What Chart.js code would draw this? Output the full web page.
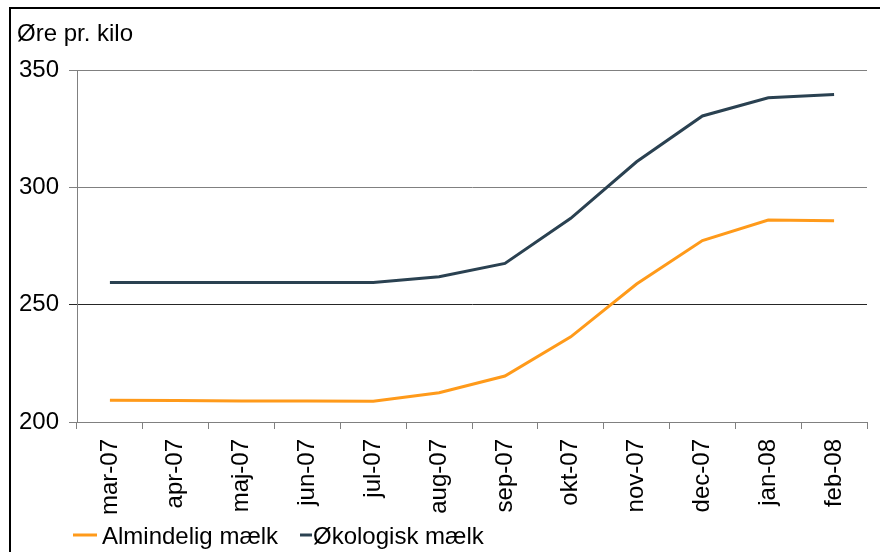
<!DOCTYPE html>
<html>
<head>
<meta charset="utf-8">
<script src="https://cdn.jsdelivr.net/npm/chart.js@4"></script>
<style>
  html, body { margin: 0; padding: 0; background: #fff; overflow: hidden; }
  #wrap { position: relative; width: 880px; height: 552px; }
  #frame { position: absolute; left: 9px; top: 7px; width: 900px; height: 600px;
           border-top: 2px solid #000; border-left: 2px solid #000; pointer-events: none; }
  canvas { position: absolute; left: 0; top: 0; }
</style>
</head>
<body>
<div id="wrap">
  <canvas id="c" width="880" height="552"></canvas>
  <div id="frame"></div>
</div>
<script>
const months = ['mar-07','apr-07','maj-07','jun-07','jul-07','aug-07','sep-07','okt-07','nov-07','dec-07','jan-08','feb-08'];
const almindelig = [209.3, 209.2, 209.0, 209.0, 208.8, 212.5, 219.6, 236.3, 258.8, 277.3, 286.1, 285.8];
const okologisk = [259.4, 259.4, 259.4, 259.4, 259.4, 261.9, 267.6, 286.8, 310.9, 330.4, 338.2, 339.6];
const seriesNames = ['Almindelig mælk', 'Økologisk mælk'];
const yTicks = [200, 250, 300, 350];
const unitLabel = 'Øre pr. kilo';

const FONT = '"Liberation Sans", Arial, sans-serif';
Chart.defaults.font.family = FONT;
Chart.defaults.font.size = 24;
Chart.defaults.color = '#000';

const legendPlugin = {
  id: 'lineLegend',
  afterDraw(chart, args, opts) {
    const ctx = chart.ctx;
    ctx.save();
    ctx.font = '24px ' + FONT;
    ctx.textBaseline = 'alphabetic';
    ctx.textAlign = 'left';
    chart.data.datasets.forEach((ds, i) => {
      const it = opts.items[i];
      ctx.strokeStyle = ds.borderColor;
      ctx.lineWidth = 3;
      ctx.beginPath();
      ctx.moveTo(it.x0, opts.lineY);
      ctx.lineTo(it.x1, opts.lineY);
      ctx.stroke();
      ctx.fillStyle = '#000';
      ctx.fillText(ds.label, it.tx, opts.textY);
    });
    ctx.restore();
  }
};

new Chart(document.getElementById('c'), {
  type: 'line',
  data: {
    labels: months,
    datasets: [
      { label: seriesNames[0], data: almindelig, borderColor: '#FF9A1A', backgroundColor: '#FF9A1A',
        borderWidth: 3, pointRadius: 0, tension: 0, fill: false },
      { label: seriesNames[1], data: okologisk, borderColor: '#2A4151', backgroundColor: '#2A4151',
        borderWidth: 3, pointRadius: 0, tension: 0, fill: false }
    ]
  },
  plugins: [legendPlugin],
  options: {
    responsive: false,
    animation: false,
    devicePixelRatio: 1,
    layout: { padding: { left: 17, right: 13, top: 0, bottom: 0 } },
    plugins: {
      legend: { display: false },
      tooltip: { enabled: false },
      title: {
        display: true, text: unitLabel, align: 'start', color: '#000',
        font: { size: 24, weight: 'normal', lineHeight: 1.2 },
        padding: { top: 19.6, bottom: 21.6 }
      },
      lineLegend: {
        lineY: 535, textY: 544,
        items: [ { x0: 73, x1: 97, tx: 102 }, { x0: 300, x1: 312, tx: 313 } ]
      }
    },
    scales: {
      x: {
        type: 'category',
        offset: true,
        afterFit: (s) => { s.height = 130; },
        grid: { offset: true, drawOnChartArea: false, drawTicks: true, tickLength: 7, color: '#808080', lineWidth: 1 },
        border: { display: true, color: '#808080', width: 1 },
        ticks: { autoSkip: false, minRotation: 90, maxRotation: 90, padding: 10, color: '#000', font: { size: 24 } }
      },
      y: {
        min: 200, max: 350,
        afterFit: (s) => { s.width = 60; },
        afterBuildTicks: (s) => { s.ticks = yTicks.map(v => ({ value: v })); },
        grid: {
          drawTicks: true, tickLength: 8, lineWidth: 1,
          color: (c) => (c.tick && c.tick.value === 250) ? '#262626' : '#808080'
        },
        border: { display: true, color: '#808080', width: 1 },
        ticks: { padding: 10, color: '#000', font: { size: 24 } }
      }
    }
  }
});
</script>
</body>
</html>
